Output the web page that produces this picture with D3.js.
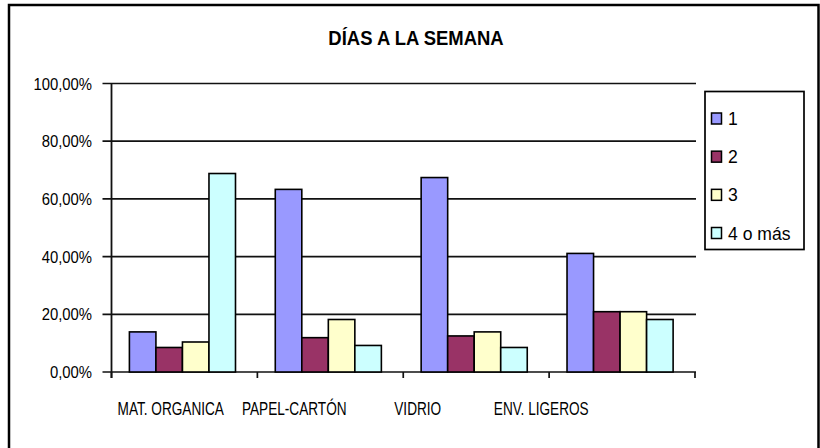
<!DOCTYPE html>
<html>
<head>
<meta charset="utf-8">
<script src="https://cdn.jsdelivr.net/npm/d3@7"></script>
<style>
  html, body { margin: 0; padding: 0; background: #fff; }
  svg { display: block; }
  text { font-family: "Liberation Sans", Arial, sans-serif; fill: #000; }
</style>
</head>
<body>
<svg id="chart" width="820" height="448"></svg>
<script>
// ---- data ----
const title = "DÍAS A LA SEMANA";
const categories = ["MAT. ORGANICA", "PAPEL-CARTÓN", "VIDRIO", "ENV. LIGEROS"];
const seriesNames = ["1", "2", "3", "4 o más"];
const serie1 = [13.9, 63.3, 67.4, 41.1];
const serie2 = [8.5, 11.9, 12.5, 20.9];
const serie3 = [10.4, 18.2, 13.9, 20.9];
const serie4 = [68.8, 9.2, 8.5, 18.2];
const yTicks = [0, 20, 40, 60, 80, 100];
const seriesColors = ["#9999FF", "#993366", "#FFFFCC", "#CCFFFF"];

const seriesValues = [serie1, serie2, serie3, serie4];
const rows = [];
categories.forEach((c, ci) => {
  seriesNames.forEach((s, si) => rows.push({cat: c, ser: s, si, value: seriesValues[si][ci]}));
});

const locale = d3.formatLocale({decimal: ",", thousands: ".", grouping: [3], currency: ["", "€"]});
const fmt = v => locale.format(".2f")(v) + "%";

// ---- layout ----
const svg = d3.select("#chart");
const plot = {left: 111.5, right: 695, top: 83.5, bottom: 372};

// outer frame
svg.append("rect")
  .attr("x", 9).attr("y", 5).attr("width", 809.5).attr("height", 460)
  .attr("fill", "#fff").attr("stroke", "#000").attr("stroke-width", 2.5);

// title
svg.append("text")
  .attr("transform", "translate(416,45) scale(0.9,1)")
  .attr("text-anchor", "middle")
  .style("font-size", "20.5px").style("font-weight", "bold")
  .text(title);

const y = d3.scaleLinear().domain([0, 100]).range([plot.bottom, plot.top]);
const x0 = d3.scaleBand().domain(categories).range([plot.left, plot.right]).paddingInner(0).paddingOuter(0);
const x1 = d3.scaleBand().domain(seriesNames).range([0, x0.bandwidth()])
  .paddingInner(0).paddingOuter(0.75).align(0.45);
const color = d3.scaleOrdinal().domain(seriesNames).range(seriesColors);

// gridlines + y ticks
const grid = svg.append("g");
grid.selectAll("line").data(yTicks).join("line")
  .attr("x1", plot.left - 9).attr("x2", plot.right + 1)
  .attr("y1", d => y(d)).attr("y2", d => y(d))
  .attr("stroke", "#111").attr("stroke-width", 1.7);

// y labels
svg.append("g").selectAll("text").data(yTicks).join("text")
  .attr("transform", d => `translate(92,${y(d) + 6}) scale(0.9,1)`)
  .attr("text-anchor", "end")
  .style("font-size", "16.5px")
  .text(d => fmt(d));

// y axis line
svg.append("line")
  .attr("x1", plot.left).attr("x2", plot.left)
  .attr("y1", y(100)).attr("y2", plot.bottom + 6)
  .attr("stroke", "#111").attr("stroke-width", 1.8);

// x ticks at category boundaries
const bounds = categories.map(c => x0(c)).concat([x0(categories[categories.length - 1]) + x0.bandwidth()]);
svg.append("g").selectAll("line").data(bounds).join("line")
  .attr("x1", d => d).attr("x2", d => d)
  .attr("y1", plot.bottom).attr("y2", plot.bottom + 6)
  .attr("stroke", "#111").attr("stroke-width", 1.7);

// bars
svg.append("g").selectAll("rect").data(rows).join("rect")
  .attr("x", d => x0(d.cat) + x1(d.ser))
  .attr("width", x1.bandwidth())
  .attr("y", d => y(d.value))
  .attr("height", d => y(0) - y(d.value))
  .attr("fill", d => color(d.ser))
  .attr("stroke", "#000").attr("stroke-width", 1.6);

// x labels (placed as in the reference, slightly left of band centers)
const xl = d3.scaleBand().domain(categories).range([109, 603]);
svg.append("g").selectAll("text").data(categories).join("text")
  .attr("transform", d => `translate(${xl(d) + xl.bandwidth() / 2},415) scale(0.77,1)`)
  .attr("text-anchor", "middle")
  .style("font-size", "17.7px")
  .text(d => d);

// legend
const legend = svg.append("g");
legend.append("rect")
  .attr("x", 705).attr("y", 91.5).attr("width", 99).attr("height", 158)
  .attr("fill", "#fff").attr("stroke", "#000").attr("stroke-width", 1.7);
const ly = d3.scalePoint().domain(seriesNames).range([118.5, 233]);
const items = legend.selectAll("g.item").data(seriesNames).join("g").attr("class", "item");
items.append("rect")
  .attr("x", 711.5).attr("y", d => ly(d) - 5.5).attr("width", 10).attr("height", 11)
  .attr("fill", d => color(d)).attr("stroke", "#000").attr("stroke-width", 1.5);
items.append("text")
  .attr("transform", d => `translate(728,${ly(d) + 6.5}) scale(0.95,1)`)
  .style("font-size", "18.5px")
  .text(d => d);
</script>
</body>
</html>
